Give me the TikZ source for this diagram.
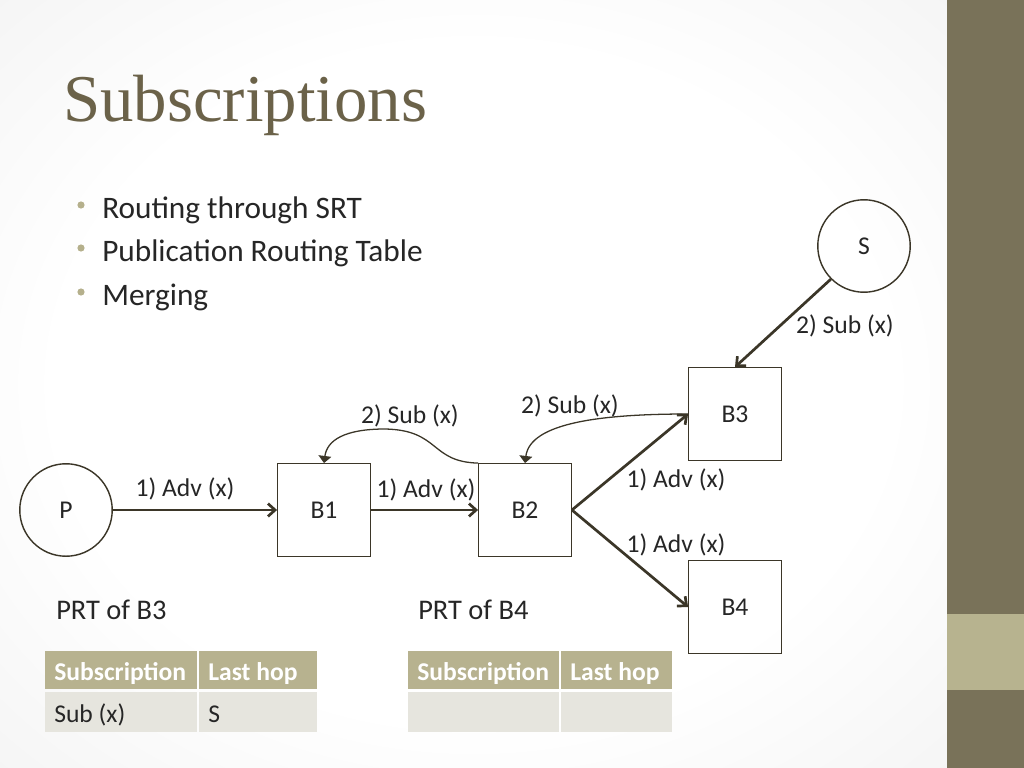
\documentclass[tikz,border=0pt]{standalone}
\usepackage{fontspec}
\setmainfont{Carlito}
\newfontfamily\titlefont{Liberation Serif}
\usetikzlibrary{arrows.meta}

\definecolor{ink}{HTML}{3B3628}
\definecolor{txtdark}{HTML}{262626}
\definecolor{titlebrown}{HTML}{6B6249}
\definecolor{khaki}{HTML}{B7B28F}
\definecolor{cellgrey}{HTML}{E6E5DE}
\definecolor{sidebar}{HTML}{797259}
\definecolor{sideband}{HTML}{B7B38F}
\definecolor{bulletc}{HTML}{B5B08C}

\pgfdeclareradialshading{slidebg}{\pgfpoint{0bp}{0bp}}{color(0bp)=(white); color(22bp)=(white); color(50bp)=(black!8); color(72bp)=(black!10)}

\begin{document}
\begin{tikzpicture}[x=0.703125pt, y=-0.703125pt,
  broker/.style={draw=ink, line width=1pt, minimum width=65pt, minimum height=65pt,
    inner sep=0pt, text=txtdark, font=\fontsize{18}{21}\selectfont},
  client/.style={circle, draw=ink, line width=1pt, minimum size=65pt,
    inner sep=0pt, text=txtdark, font=\fontsize{18}{21}\selectfont},
  heavy/.style={ink, line width=1.9pt, -{Straight Barb[length=5pt,width=9pt]}},
  bent/.style={ink, line width=0.9pt, -{Triangle[length=5pt,width=9pt]}},
  lbl/.style={inner sep=0pt, anchor=base, text=txtdark, font=\fontsize{18}{21}\selectfont},
  txt/.style={inner sep=0pt, anchor=base west, text=txtdark},
  cell/.style={inner sep=0pt, anchor=base west, font=\fontsize{18}{21}\selectfont}]
  \useasboundingbox (0,0) rectangle (1024,768);

  % slide background and side bar
  \shade[shading=slidebg] (0,0) rectangle (947,768);
  \fill[sidebar] (947,0) rectangle (1024,768);
  \fill[sideband] (947,614) rectangle (1024,690);

  % title and bullets
  \node[txt, text=titlebrown, font=\titlefont\fontsize{47}{51}\selectfont] (title) at (63,122) {Subscriptions};
  \fill[bulletc] (81,205) circle (3.6);
  \fill[bulletc] (81,248) circle (3.6);
  \fill[bulletc] (81,292) circle (3.6);
  \node[txt, font=\fontsize{22}{26}\selectfont] (item1) at (102,219) {Routing through SRT};
  \node[txt, font=\fontsize{22}{26}\selectfont] (item2) at (102,262) {Publication Routing Table};
  \node[txt, font=\fontsize{22}{26}\selectfont] (item3) at (102,306) {Merging};

  % nodes
  \node[client] (P) at (66,510) {P};
  \node[broker] (B1) at (324,510) {B1};
  \node[broker] (B2) at (525,510) {B2};
  \node[broker] (B3) at (735,414) {B3};
  \node[broker] (B4) at (735,607) {B4};
  \node[client] (S) at (864,246) {S};

  % advertisements
  \draw[heavy] (P) -- (B1);
  \draw[heavy] (B1) -- (B2);
  \draw[heavy] (B2.east) -- (B3.west);
  \draw[heavy] (B2.east) -- (B4.west);
  \node[lbl] (advP) at (185,496) {1) Adv (x)};
  \node[lbl] (advB1) at (426,497) {1) Adv (x)};
  \node[lbl] (advB3) at (676,487) {1) Adv (x)};
  \node[lbl] (advB4) at (676,552) {1) Adv (x)};

  % subscriptions
  \draw[heavy] (S.south west) -- (B3.north);
  \draw[bent] (B3.west) .. controls (600,414) and (530,423) .. (B2.north);
  \draw[bent] (B2.north west) .. controls (430,462) and (440,430) .. (385,429)
    .. controls (345,429) and (327,440) .. (B1.north);
  \node[lbl] (subS) at (845,334) {2) Sub (x)};
  \node[lbl] (subB3) at (570,413) {2) Sub (x)};
  \node[lbl] (subB2) at (410,423) {2) Sub (x)};

  % PRT tables
  \node[txt, font=\fontsize{20}{24}\selectfont] (prt3) at (56,619) {PRT of B3};
  \node[txt, font=\fontsize{20}{24}\selectfont] (prt4) at (418,619) {PRT of B4};

  \fill[khaki] (45,651) rectangle (197,689);
  \fill[khaki] (199,651) rectangle (317,689);
  \fill[cellgrey] (45,692) rectangle (197,732);
  \fill[cellgrey] (199,692) rectangle (317,732);
  \node[cell, text=white, font=\bfseries\fontsize{18}{21}\selectfont] (h31) at (54,680) {Subscription};
  \node[cell, text=white, font=\bfseries\fontsize{18}{21}\selectfont] (h32) at (208,680) {Last hop};
  \node[cell, text=txtdark] (c31) at (54,722) {Sub (x)};
  \node[cell, text=txtdark] (c32) at (208,722) {S};

  \fill[khaki] (408,651) rectangle (559,689);
  \fill[khaki] (561,651) rectangle (672,689);
  \fill[cellgrey] (408,692) rectangle (559,732);
  \fill[cellgrey] (561,692) rectangle (672,732);
  \node[cell, text=white, font=\bfseries\fontsize{18}{21}\selectfont] (h41) at (417,680) {Subscription};
  \node[cell, text=white, font=\bfseries\fontsize{18}{21}\selectfont] (h42) at (570,680) {Last hop};
\end{tikzpicture}
\end{document}
